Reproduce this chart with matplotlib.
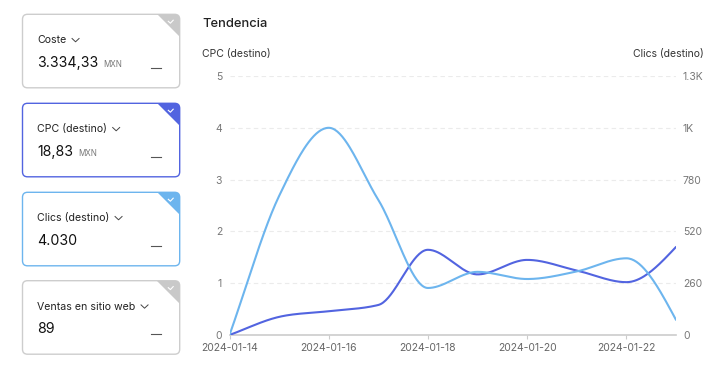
import numpy as np
import matplotlib
matplotlib.use("Agg")
import matplotlib.pyplot as plt
from matplotlib.patches import FancyBboxPatch, Polygon
from matplotlib.lines import Line2D

plt.rcParams['font.family'] = ['Inter', 'DejaVu Sans']

# ---------------- data ----------------
dates = ["2024-01-14", "2024-01-15", "2024-01-16", "2024-01-17", "2024-01-18",
         "2024-01-19", "2024-01-20", "2024-01-21", "2024-01-22", "2024-01-23"]
cpc = [0.0, 0.35, 0.46, 0.58, 1.645, 1.17, 1.45, 1.245, 1.02, 1.70]
clicks = [0, 698, 1040, 678, 236, 317, 281, 319, 385, 76]

left_ticks = [0, 1, 2, 3, 4, 5]
right_ticks = [0, 260, 520, 780, 1040, 1300]
right_tick_labels = ["0", "260", "520", "780", "1K", "1.3K"]

card_labels = ["Coste", "CPC (destino)", "Clics (destino)", "Ventas en sitio web"]
card_values = ["3.334,33", "18,83", "4.030", "89"]
card_units = ["MXN", "MXN", "", ""]

title = "Tendencia"
left_axis_title = "CPC (destino)"
right_axis_title = "Clics (destino)"

# ---------------- style ----------------
DARK = "#5264E0"
LIGHT = "#6DB5EE"
GRAY_BORDER = "#CDCDCD"
GRAY_TRI = "#C9C9C9"
card_border = [GRAY_BORDER, DARK, LIGHT, GRAY_BORDER]
card_tri = [GRAY_TRI, DARK, LIGHT, GRAY_TRI]
card_tops = [14.3, 103.3, 192.3, 280.7]
CARD_L, CARD_R, CARD_H = 22.5, 179.7, 73.5

W, H = 724, 379
fig = plt.figure(figsize=(W / 100, H / 100), dpi=100)
fig.patch.set_facecolor("white")


def monotone(x, y, n=40):
    x = np.asarray(x, float)
    y = np.asarray(y, float)
    h = np.diff(x)
    s = np.diff(y) / h
    sg = lambda v: -1.0 if v < 0 else 1.0
    m = np.zeros_like(y)
    for i in range(1, len(y) - 1):
        s0, s1 = s[i - 1], s[i]
        h0, h1 = h[i - 1], h[i]
        p = (s0 * h1 + s1 * h0) / (h0 + h1)
        m[i] = (sg(s0) + sg(s1)) * min(abs(s0), abs(s1), 0.5 * abs(p))
    m[0] = s[0]
    m[-1] = (3 * s[-1] - m[-2]) / 2
    xs, ys = [], []
    for i in range(len(y) - 1):
        t = np.linspace(0, 1, n, endpoint=(i == len(y) - 2))
        h00 = 2 * t**3 - 3 * t**2 + 1
        h10 = t**3 - 2 * t**2 + t
        h01 = -2 * t**3 + 3 * t**2
        h11 = t**3 - t**2
        xs.append(x[i] + t * h[i])
        ys.append(h00 * y[i] + h10 * h[i] * m[i] + h01 * y[i + 1] + h11 * h[i] * m[i + 1])
    return np.concatenate(xs), np.concatenate(ys)


# ---------------- overlay for cards ----------------
ov = fig.add_axes([0, 0, 1, 1], zorder=0)
ov.set_xlim(0, W)
ov.set_ylim(H, 0)
ov.axis("off")

renderer = fig.canvas.get_renderer()

for i in range(4):
    top = card_tops[i]
    card = FancyBboxPatch((CARD_L, top), CARD_R - CARD_L, CARD_H,
                          boxstyle="round,pad=0,rounding_size=5",
                          facecolor="white", edgecolor=card_border[i], lw=1.0, zorder=1)
    ov.add_patch(card)
    tri = Polygon([(CARD_R - 23, top), (CARD_R + 1, top), (CARD_R + 1, top + 24)],
                  closed=True, facecolor=card_tri[i], edgecolor="none", zorder=2)
    ov.add_patch(tri)
    tri.set_clip_path(card)
    ov.add_line(Line2D([CARD_R - 11.4, CARD_R - 9.3, CARD_R - 6.5],
                       [top + 7.0, top + 8.9, top + 5.9], color="white", lw=0.8, zorder=3))
    # label
    lt = ov.text(37.3, top + 26, card_labels[i], fontsize=7.6, color="#222222",
                 ha="left", va="center", zorder=3)
    bb = lt.get_window_extent(renderer)
    cx = bb.x1 + 5.5
    cy = top + 24.2
    ov.add_line(Line2D([cx, cx + 3.5, cx + 7], [cy, cy + 3.3, cy], color="#444444",
                       lw=0.7, zorder=3))
    # value
    vt = ov.text(37.3, top + 52.6, card_values[i], fontsize=10.2, color="#111111",
                 ha="left", va="baseline", zorder=3)
    if card_units[i]:
        vb = vt.get_window_extent(renderer)
        ov.text(vb.x1 + 4.8, top + 52.6, card_units[i], fontsize=5.8, color="#777777",
                ha="left", va="baseline", zorder=3)
    ov.add_line(Line2D([150.5, 160.5], [top + 53.4, top + 53.4], color="#555555",
                       lw=0.8, zorder=3))

# ---------------- chart ----------------
L, R, T, B = 229.5, 676.0, 76.0, 335.0
ax = fig.add_axes([L / W, (H - B) / H, (R - L) / W, (B - T) / H], zorder=2)
ax.patch.set_alpha(0)
ax2 = ax.twinx()

x = np.arange(len(dates))
xs, ys = monotone(x, cpc)
xs2, ys2 = monotone(x, clicks)

ax.plot(xs, ys, color=DARK, lw=1.5, solid_capstyle="round", zorder=3)
ax2.plot(xs2, ys2, color=LIGHT, lw=1.5, solid_capstyle="round", zorder=3)

ax.set_xlim(x[0], x[-1])
ax.set_ylim(left_ticks[0], left_ticks[-1])
ax2.set_ylim(right_ticks[0], right_ticks[-1])

ax.set_yticks(left_ticks)
ax.set_yticklabels([str(v) for v in left_ticks])
ax2.set_yticks(right_ticks)
ax2.set_yticklabels(right_tick_labels)

ax.set_xticks(x[::2])
ax.set_xticklabels(dates[::2])

for a in (ax, ax2):
    for s in a.spines.values():
        s.set_visible(False)
ax.spines["bottom"].set_visible(True)
ax.spines["bottom"].set_color("#CCCCCC")
ax.spines["bottom"].set_linewidth(1.2)

ax.tick_params(axis="y", length=0, pad=5.3, labelsize=7.5, labelcolor="#777777")
ax2.tick_params(axis="y", length=0, pad=5.0, labelsize=7.5, labelcolor="#777777")
ax.tick_params(axis="x", length=3, width=0.8, color="#CCCCCC", pad=3,
               labelsize=7.5, labelcolor="#666666")

for v in left_ticks[1:]:
    ax.axhline(v, color="#EBEBEB", lw=0.8, ls=(0, (4, 3)), zorder=1)

fig.text(202 / W, 1 - 24 / H, title, fontsize=9.3, color="#222222",
         ha="left", va="center", fontweight="medium")
fig.text(202 / W, 1 - 54.3 / H, left_axis_title, fontsize=7.5, color="#333333",
         ha="left", va="center")
fig.text(704 / W, 1 - 54.3 / H, right_axis_title, fontsize=7.5, color="#333333",
         ha="right", va="center")

fig.savefig("out.png", dpi=100, facecolor="white")
